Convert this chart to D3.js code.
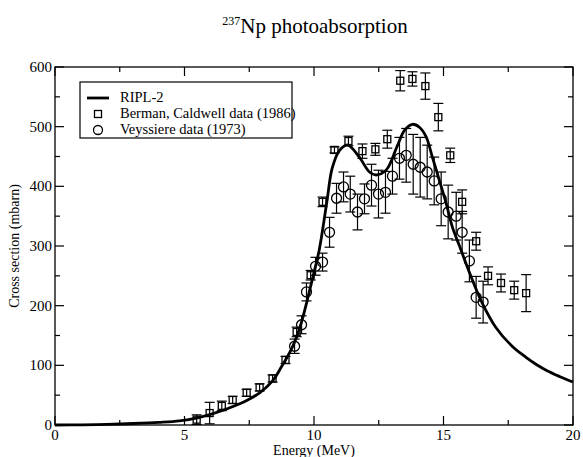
<!DOCTYPE html>
<html>
<head>
<meta charset="utf-8">
<script src="https://cdn.jsdelivr.net/npm/d3@7"></script>
<style>
  body { margin: 0; background: #fff; }
</style>
</head>
<body>
<div id="chart"></div>
<script>
// RIPL-2 curve
let curveE = [0, 1, 2, 3, 4, 4.8, 5.5, 6.1, 6.7, 7.4, 7.9, 8.4, 8.75, 9.17, 9.5, 9.94, 10.2, 10.5, 10.7, 10.98, 11.3, 11.75, 12.14, 12.4, 12.8, 13.2, 13.5, 13.8, 14.07, 14.33, 14.57, 14.84, 15.1, 15.34, 15.6, 16.07, 16.5, 17.03, 17.65, 18.2, 18.6, 19, 19.5, 20];
let curveS = [0, 0.3, 1, 2.5, 4.5, 7, 12, 19, 28, 41, 54, 74, 98, 131, 170, 245, 293, 375, 430, 460, 469, 449, 424, 419, 428, 466, 494, 504, 499, 483, 449, 410, 372, 332, 302, 248, 204, 163, 132, 113, 101, 91, 81, 72];

// Berman, Caldwell data (1986)
let bermanE = [5.47, 5.97, 6.44, 6.86, 7.4, 7.9, 8.4, 8.9, 9.33, 9.87, 10.33, 10.79, 11.33, 11.87, 12.37, 12.83, 13.33, 13.8, 14.3, 14.8, 15.26, 15.72, 16.26, 16.72, 17.22, 17.73, 18.19];
let bermanS = [9, 20, 32, 42, 54, 63, 78, 109, 156, 251, 374, 461, 476, 459, 462, 479, 577, 580, 568, 516, 452, 374, 308, 250, 238, 226, 221];
let bermanErr = [8, 18, 8, 6, 6, 6, 6, 6, 8, 8, 8, 5, 8, 12, 10, 15, 17, 12, 22, 23, 12, 20, 15, 15, 15, 15, 31];

// Veyssiere data (1973)
let veysE = [9.25, 9.52, 9.71, 10.06, 10.33, 10.6, 10.87, 11.14, 11.4, 11.68, 11.95, 12.22, 12.49, 12.76, 13.03, 13.3, 13.56, 13.83, 14.1, 14.37, 14.64, 14.91, 15.18, 15.49, 15.72, 16.0, 16.26, 16.53];
let veysS = [132, 168, 223, 266, 273, 323, 380, 399, 387, 357, 379, 402, 387, 390, 417, 447, 452, 437, 432, 424, 409, 379, 357, 350, 323, 275, 214, 206];
let veysErr = [12, 15, 15, 15, 15, 25, 25, 25, 30, 30, 25, 35, 40, 35, 30, 35, 45, 50, 50, 45, 40, 45, 45, 40, 35, 35, 35, 35];

let xTicks = [0, 5, 10, 15, 20];
let yTicks = [0, 100, 200, 300, 400, 500, 600];

let width = 583, height = 457;
let margin = {left: 55, right: 10, top: 67, bottom: 32};
let serif = '"Liberation Serif", "Times New Roman", "DejaVu Serif", serif';

let svg = d3.select('#chart')
	.append('svg')
	.attr('width', width)
	.attr('height', height)
	.attr('font-family', serif)
	.style('font-family', serif);

let x = d3.scaleLinear().domain([0, 20]).range([margin.left, width - margin.right]);
let y = d3.scaleLinear().domain([0, 600]).range([height - margin.bottom, margin.top]);

// Title
let title = svg.append('text')
	.attr('x', 315)
	.attr('y', 33)
	.attr('text-anchor', 'middle')
	.attr('font-size', 21);
title.append('tspan').text('237').attr('font-size', 12).attr('dy', -8);
title.append('tspan').text('Np photoabsorption').attr('dy', 8);

// Frame
svg.append('rect')
	.attr('x', x(0))
	.attr('y', y(600))
	.attr('width', x(20) - x(0))
	.attr('height', y(0) - y(600))
	.attr('fill', 'none')
	.attr('stroke', 'black')
	.attr('stroke-width', 1.3);

// Inward ticks on all four sides
let ticks = svg.append('g').attr('stroke', 'black').attr('stroke-width', 1.2);
d3.range(0, 20.01, 2.5).forEach(function(v){
	let len = (v % 5 === 0) ? 9 : 5;
	ticks.append('line').attr('x1', x(v)).attr('x2', x(v)).attr('y1', y(0)).attr('y2', y(0) - len);
	ticks.append('line').attr('x1', x(v)).attr('x2', x(v)).attr('y1', y(600)).attr('y2', y(600) + len);
});
d3.range(0, 600.1, 50).forEach(function(v){
	let len = (v % 100 === 0) ? 9 : 5;
	ticks.append('line').attr('x1', x(0)).attr('x2', x(0) + len).attr('y1', y(v)).attr('y2', y(v));
	ticks.append('line').attr('x1', x(20)).attr('x2', x(20) - len).attr('y1', y(v)).attr('y2', y(v));
});

// Tick labels
xTicks.forEach(function(v){
	svg.append('text')
		.text(v)
		.attr('x', x(v))
		.attr('y', y(0) + 15)
		.attr('text-anchor', 'middle')
		.attr('font-size', 15);
});
yTicks.forEach(function(v){
	svg.append('text')
		.text(v)
		.attr('x', x(0) - 3)
		.attr('y', y(v) + 5)
		.attr('text-anchor', 'end')
		.attr('font-size', 15);
});

// Axis titles
svg.append('text')
	.text('Energy (MeV)')
	.attr('x', x(10))
	.attr('y', 455)
	.attr('text-anchor', 'middle')
	.attr('font-size', 14);
svg.append('text')
	.text('Cross section (mbarn)')
	.attr('transform', 'translate(19,' + y(300) + ') rotate(-90)')
	.attr('text-anchor', 'middle')
	.attr('font-size', 14);

// Error bars
function errorBars(g, es, ss, errs){
	es.forEach(function(e, i){
		let cx = x(e), lo = y(ss[i] - errs[i]), hi = y(ss[i] + errs[i]);
		g.append('line').attr('x1', cx).attr('x2', cx).attr('y1', lo).attr('y2', hi);
		g.append('line').attr('x1', cx - 5).attr('x2', cx + 5).attr('y1', lo).attr('y2', lo);
		g.append('line').attr('x1', cx - 5).attr('x2', cx + 5).attr('y1', hi).attr('y2', hi);
	});
}

let bars = svg.append('g').attr('stroke', 'black').attr('stroke-width', 1.2);
errorBars(bars, veysE, veysS, veysErr);
errorBars(bars, bermanE, bermanS, bermanErr);

// Veyssiere circles
svg.append('g').selectAll('circle')
	.data(veysE)
	.enter()
	.append('circle')
	.attr('cx', function(d){ return x(d); })
	.attr('cy', function(d, i){ return y(veysS[i]); })
	.attr('r', 5)
	.attr('fill', 'none')
	.attr('stroke', 'black')
	.attr('stroke-width', 1.3);

// Berman squares
svg.append('g').selectAll('rect')
	.data(bermanE)
	.enter()
	.append('rect')
	.attr('x', function(d){ return x(d) - 3.5; })
	.attr('y', function(d, i){ return y(bermanS[i]) - 3.5; })
	.attr('width', 7)
	.attr('height', 7)
	.attr('fill', 'none')
	.attr('stroke', 'black')
	.attr('stroke-width', 1.3);

// RIPL-2 curve
let line = d3.line()
	.x(function(d){ return x(d); })
	.y(function(d, i){ return y(curveS[i]); })
	.curve(d3.curveCatmullRom.alpha(0.5));
svg.append('path')
	.attr('d', line(curveE))
	.attr('fill', 'none')
	.attr('stroke', 'black')
	.attr('stroke-width', 2.8);

// Legend
let legend = svg.append('g');
legend.append('rect')
	.attr('x', 80)
	.attr('y', 82)
	.attr('width', 212)
	.attr('height', 56)
	.attr('fill', 'white')
	.attr('stroke', 'black')
	.attr('stroke-width', 1.2);
legend.append('line')
	.attr('x1', 87).attr('x2', 109)
	.attr('y1', 98).attr('y2', 98)
	.attr('stroke', 'black')
	.attr('stroke-width', 2.8);
legend.append('rect')
	.attr('x', 94.5).attr('y', 110.5)
	.attr('width', 7).attr('height', 7)
	.attr('fill', 'none').attr('stroke', 'black').attr('stroke-width', 1.3);
legend.append('circle')
	.attr('cx', 98).attr('cy', 130).attr('r', 4.5)
	.attr('fill', 'none').attr('stroke', 'black').attr('stroke-width', 1.3);
let legendLabels = ['RIPL-2', 'Berman, Caldwell data (1986)', 'Veyssiere data (1973)'];
legendLabels.forEach(function(t, i){
	legend.append('text')
		.text(t)
		.attr('x', 120)
		.attr('y', 102 + i * 16)
		.attr('font-size', 14.5);
});
</script>
</body>
</html>
